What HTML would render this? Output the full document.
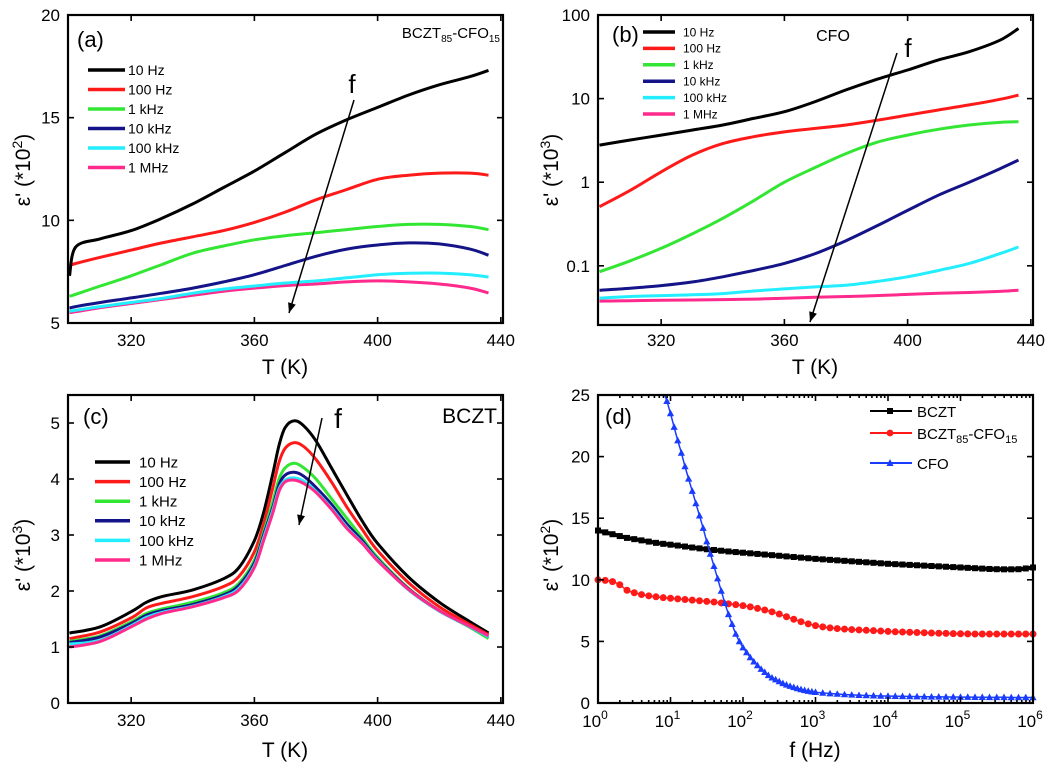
<!DOCTYPE html>
<html><head><meta charset="utf-8"><style>
html,body{margin:0;padding:0;background:#fff}
svg{display:block;font-family:"Liberation Sans",Arial,sans-serif}
</style></head><body>
<svg id="fig" width="1059" height="770" viewBox="0 0 1059 770"></svg>
<script>
// ---------- Panel (a) data: BCZT85-CFO15, eps' (*10^2) vs T ----------
const aT=[300,302,310,320,330,340,350,360,370,380,390,400,410,420,430,436];
const a10Hz=[7.3,8.7,9.1,9.5,10.1,10.8,11.6,12.4,13.3,14.2,14.9,15.5,16.1,16.6,17.0,17.3];
const a100Hz=[7.8,7.9,8.2,8.55,8.9,9.2,9.5,9.9,10.4,11.0,11.5,12.0,12.2,12.3,12.3,12.2];
const a1kHz=[6.3,6.4,6.8,7.3,7.85,8.4,8.75,9.05,9.25,9.4,9.55,9.7,9.8,9.8,9.7,9.55];
const a10kHz=[5.73,5.8,6.0,6.22,6.45,6.7,7.0,7.35,7.8,8.25,8.6,8.8,8.9,8.85,8.6,8.3];
const a100kHz=[5.57,5.62,5.8,6.0,6.2,6.45,6.65,6.8,6.95,7.05,7.2,7.35,7.42,7.43,7.35,7.24];
const a1MHz=[5.5,5.55,5.75,5.95,6.15,6.35,6.55,6.7,6.82,6.9,7.0,7.05,7.0,6.9,6.7,6.46];
// ---------- Panel (b) data: CFO, eps' (*10^3), log scale ----------
const bT=[300,310,320,330,340,350,360,370,380,390,400,410,420,430,436];
const b10Hz=[2.78,3.2,3.66,4.2,4.83,5.8,6.97,9.2,12.7,17,22,29,36.4,50,69];
const b100Hz=[0.51,0.8,1.33,2.1,2.9,3.5,4.0,4.4,4.83,5.5,6.35,7.3,8.4,9.8,11.0];
const b1kHz=[0.085,0.115,0.162,0.24,0.37,0.6,1.0,1.5,2.2,3.0,3.66,4.3,4.83,5.2,5.3];
const b10kHz=[0.051,0.054,0.058,0.064,0.074,0.088,0.107,0.14,0.2,0.3,0.46,0.7,1.0,1.45,1.84];
const b100kHz=[0.041,0.043,0.044,0.045,0.0466,0.05,0.0529,0.056,0.0585,0.065,0.074,0.088,0.107,0.14,0.168];
const b1MHz=[0.0379,0.0383,0.0387,0.039,0.0395,0.04,0.041,0.042,0.043,0.044,0.0455,0.047,0.048,0.0495,0.051];
// ---------- Panel (c) data: BCZT, eps' (*10^3) ----------
const cT=[300,310,320,325,330,340,350,355,360,363,366,368,370,373,376,380,385,390,395,400,410,420,430,436];
const c10Hz=[1.25,1.36,1.63,1.8,1.9,2.02,2.22,2.42,2.9,3.4,4.1,4.6,4.92,5.04,4.95,4.68,4.2,3.72,3.25,2.85,2.25,1.8,1.45,1.25];
const c100Hz=[1.15,1.27,1.52,1.7,1.78,1.9,2.08,2.26,2.7,3.2,3.85,4.3,4.55,4.65,4.58,4.35,3.95,3.5,3.1,2.72,2.15,1.72,1.4,1.22];
const c1kHz=[1.1,1.2,1.45,1.6,1.68,1.8,1.97,2.14,2.55,3.05,3.6,4.0,4.2,4.28,4.2,4.0,3.65,3.3,2.95,2.6,2.05,1.65,1.35,1.15];
const c10kHz=[1.08,1.18,1.42,1.57,1.65,1.76,1.93,2.1,2.5,3.0,3.5,3.9,4.07,4.12,4.05,3.85,3.55,3.2,2.9,2.57,2.04,1.65,1.36,1.18];
const c100kHz=[1.05,1.12,1.38,1.53,1.62,1.73,1.9,2.05,2.45,2.95,3.45,3.82,3.98,4.02,3.96,3.78,3.48,3.14,2.86,2.55,2.02,1.64,1.36,1.18];
const c1MHz=[1.0,1.1,1.36,1.5,1.6,1.72,1.88,2.02,2.42,2.9,3.4,3.78,3.95,3.98,3.92,3.76,3.46,3.12,2.85,2.54,2.03,1.65,1.37,1.2];
// ---------- Panel (d) data: eps' (*10^2) vs log10 f ----------
const dLogF=[0,0.1,0.2,0.3,0.4,0.5,0.6,0.7,0.8,0.9,1.0,1.1,1.2,1.3,1.4,1.5,1.6,1.7,1.8,1.9,2.0,2.1,2.2,2.3,2.4,2.5,2.6,2.7,2.8,2.9,3.0,3.1,3.2,3.3,3.4,3.5,3.6,3.7,3.8,3.9,4.0,4.1,4.2,4.3,4.4,4.5,4.6,4.7,4.8,4.9,5.0,5.1,5.2,5.3,5.4,5.5,5.6,5.7,5.8,5.9,6.0];
const dBCZT=[14.0,13.85,13.7,13.55,13.4,13.3,13.2,13.1,13.0,12.92,12.85,12.78,12.7,12.62,12.55,12.48,12.42,12.36,12.3,12.25,12.2,12.15,12.1,12.05,12.0,11.95,11.9,11.85,11.8,11.75,11.7,11.66,11.62,11.58,11.54,11.5,11.46,11.42,11.38,11.34,11.3,11.27,11.24,11.21,11.18,11.15,11.12,11.09,11.06,11.03,11.0,10.97,10.94,10.91,10.88,10.86,10.85,10.85,10.86,10.92,11.0];
const dBCZTCFO=[10.0,9.95,9.85,9.6,9.15,8.95,8.8,8.7,8.62,8.55,8.5,8.45,8.4,8.35,8.3,8.25,8.2,8.12,8.05,7.98,7.9,7.8,7.68,7.55,7.4,7.22,7.0,6.8,6.6,6.42,6.28,6.18,6.1,6.04,6.0,5.96,5.93,5.9,5.87,5.84,5.81,5.78,5.76,5.74,5.72,5.7,5.68,5.66,5.65,5.63,5.62,5.61,5.6,5.6,5.6,5.6,5.6,5.6,5.6,5.6,5.6];
const dCFOLogF=[0.9,0.95,1.0,1.05,1.1,1.15,1.2,1.25,1.3,1.35,1.4,1.45,1.5,1.55,1.6,1.65,1.7,1.75,1.8,1.85,1.9,1.95,2.0,2.05,2.1,2.15,2.2,2.25,2.3,2.35,2.4,2.45,2.5,2.55,2.6,2.65,2.7,2.75,2.8,2.85,2.9,2.95,3.0,3.1,3.2,3.3,3.4,3.5,3.6,3.7,3.8,3.9,4.0,4.1,4.2,4.3,4.4,4.5,4.6,4.7,4.8,4.9,5.0,5.1,5.2,5.3,5.4,5.5,5.6,5.7,5.8,5.9,6.0];
const dCFO=[25.4,24.5,23.5,22.4,21.3,20.3,19.2,18.2,17.2,16.2,15.2,14.2,13.1,12.1,11.1,10.1,9.1,8.1,7.2,6.4,5.6,5.0,4.5,4.1,3.7,3.35,3.05,2.75,2.5,2.25,2.05,1.9,1.75,1.6,1.48,1.37,1.27,1.18,1.1,1.03,0.97,0.92,0.88,0.82,0.77,0.73,0.69,0.66,0.63,0.61,0.59,0.57,0.56,0.55,0.54,0.53,0.52,0.51,0.5,0.5,0.49,0.49,0.48,0.48,0.47,0.47,0.46,0.46,0.46,0.45,0.45,0.45,0.45];
const freqLabels=['10 Hz','100 Hz','1 kHz','10 kHz','100 kHz','1 MHz'];
const freqColors=['#000000','#ff1a1a','#33e633','#141488','#22eeff','#ff2a8c'];
const aYTicks=[5,10,15,20];
const bYTicks=[0.1,1,10,100];
const bYTickLabels=['0.1','1','10','100'];
const cYTicks=[0,1,2,3,4,5];
const dYTicks=[0,5,10,15,20,25];
const tTicks=[320,360,400,440];
const dXTicks=[0,1,2,3,4,5,6];

const NS='http://www.w3.org/2000/svg';
const fig=document.getElementById('fig');
function el(tag,parent){const e=document.createElementNS(NS,tag);parent.appendChild(e);return e;}
function lin(d0,d1,r0,r1){return v=>r0+(v-d0)/(d1-d0)*(r1-r0);}
function logs(d0,d1,r0,r1){const l0=Math.log10(d0),l1=Math.log10(d1);return v=>r0+(Math.log10(v)-l0)/(l1-l0)*(r1-r0);}
function txt(parent,x,y,s,size,anchor){const t=el('text',parent);t.setAttribute('x',x);t.setAttribute('y',y);t.setAttribute('font-size',size);t.setAttribute('text-anchor',anchor||'start');t.textContent=s;return t;}
function sub(t,s,dy,size){const sp=el('tspan',t);sp.setAttribute('dy',dy);sp.setAttribute('font-size',size);sp.textContent=s;return sp;}
function smoothPath(pts){
  let d='M'+pts[0][0].toFixed(1)+' '+pts[0][1].toFixed(1);
  for(let i=0;i<pts.length-1;i++){
    const p0=pts[Math.max(0,i-1)],p1=pts[i],p2=pts[i+1],p3=pts[Math.min(pts.length-1,i+2)];
    const c1x=p1[0]+(p2[0]-p0[0])/6,c1y=p1[1]+(p2[1]-p0[1])/6;
    const c2x=p2[0]-(p3[0]-p1[0])/6,c2y=p2[1]-(p3[1]-p1[1])/6;
    d+=`C${c1x.toFixed(1)} ${c1y.toFixed(1)} ${c2x.toFixed(1)} ${c2y.toFixed(1)} ${p2[0].toFixed(1)} ${p2[1].toFixed(1)}`;
  }
  return d;
}
function frame(g,L,T,R,B,id){
  const cp=el('clipPath',g);cp.setAttribute('id',id);
  const cr=el('rect',cp);cr.setAttribute('x',L);cr.setAttribute('y',T);cr.setAttribute('width',R-L);cr.setAttribute('height',B-T);
  const r=el('rect',g);r.setAttribute('x',L);r.setAttribute('y',T);r.setAttribute('width',R-L);r.setAttribute('height',B-T);
  r.setAttribute('fill','none');r.setAttribute('stroke','#000');r.setAttribute('stroke-width','2.2');
  
  
}
function series(g,xs,ys,sx,sy,color,w,clip,name){
  const p=el('path',g);
  p.setAttribute('d',smoothPath(xs.map((x,i)=>[sx(x),sy(ys[i])])));
  p.setAttribute('fill','none');p.setAttribute('stroke',color);p.setAttribute('stroke-width',w);
  p.setAttribute('stroke-linejoin','round');p.setAttribute('clip-path','url(#'+clip+')');
  
  
  return p;
}
function tick(g,x1,y1,x2,y2){const l=el('line',g);l.setAttribute('x1',x1);l.setAttribute('y1',y1);l.setAttribute('x2',x2);l.setAttribute('y2',y2);l.setAttribute('stroke','#000');l.setAttribute('stroke-width','1.6');return l;}
function arrow(g,x1,y1,x2,y2){
  const l=tick(g,x1,y1,x2,y2);l.setAttribute('stroke-width','1.5');
  const a=Math.atan2(y2-y1,x2-x1),s=10,w=4;
  const p=el('polygon',g);
  const bx=x2-s*Math.cos(a),by=y2-s*Math.sin(a);
  p.setAttribute('points',`${x2},${y2} ${bx+w*Math.sin(a)},${by-w*Math.cos(a)} ${bx-w*Math.sin(a)},${by+w*Math.cos(a)}`);
  p.setAttribute('fill','#000');
  
  
}
function ytitle(g,x,y,exp){
  const t=txt(g,0,0,"ε' (*10",21,'middle');
  t.setAttribute('transform',`translate(${x},${y}) rotate(-90)`);
  sub(t,exp,-8,14);sub(t,')',8,21);
  
  
}
function xTTicks(g,sx,B,T,lblY,title,titleY,cx){
  tTicks.forEach(v=>{tick(g,sx(v),B,sx(v),B-6);tick(g,sx(v),T,sx(v),T+6);
    const t=txt(g,sx(v),lblY,String(v),17,'middle');
    
    });
  const tt=txt(g,cx,titleY,title,21,'middle');
  
  
}
function legendT(g,x1,x2,y0,dy,tx,size,w){
  freqLabels.forEach((lab,i)=>{
    const y=y0+i*dy;
    const l=tick(g,x1,y,x2,y);l.setAttribute('stroke',freqColors[i]);l.setAttribute('stroke-width',w);
    
    
    const t=txt(g,tx,y+size*0.36,lab,size);
    
    
  });
}

// ===== Panel (a) =====
(function(){
  const g=el('g',fig);
  const L=68,R=503,T=15,B=323;
  const sx=lin(299.5,440.7,L,R),sy=lin(5,20,B,T);
  const ser=[a10Hz,a100Hz,a1kHz,a10kHz,a100kHz,a1MHz];
  for(let i=5;i>=0;i--) series(g,aT,ser[i],sx,sy,freqColors[i],3,'clipA','line-'+freqLabels[i].replace(' ','-').toLowerCase());
  frame(g,L,T,R,B,'clipA');
  aYTicks.forEach(v=>{tick(g,L,sy(v),L+6,sy(v));tick(g,R,sy(v),R-6,sy(v));
    const t=txt(g,L-8,sy(v)+6,String(v),17,'end');});
  xTTicks(g,sx,B,T,346,'T (K)',374,285);
  ytitle(g,30,170,'2');
  legendT(g,88,125,70,19.5,128,14,3.5);
  const lab=txt(g,77,47,'(a)',22);
  const nm=txt(g,500,38,'BCZT',15,'end');sub(nm,'85',4,10);sub(nm,'-CFO',-4,15);sub(nm,'15',4,10);
  
  const f=txt(g,352,93,'f',26,'middle');
  arrow(g,354,100,289,313);
})();

// ===== Panel (b) =====
(function(){
  const g=el('g',fig);
  const L=598,R=1033,T=15,B=325;
  const sx=lin(299.5,440.7,L,R),sy=logs(0.0196,100,B,T);
  const ser=[b10Hz,b100Hz,b1kHz,b10kHz,b100kHz,b1MHz];
  for(let i=5;i>=0;i--) series(g,bT,ser[i],sx,sy,freqColors[i],3,'clipB','line-'+freqLabels[i].replace(' ','-').toLowerCase());
  frame(g,L,T,R,B,'clipB');
  bYTicks.forEach((v,i)=>{tick(g,L,sy(v),L+6,sy(v));tick(g,R,sy(v),R-6,sy(v));
    const t=txt(g,L-8,sy(v)+6,bYTickLabels[i],17,'end');});
  xTTicks(g,sx,B,T,346,'T (K)',374,815);
  ytitle(g,558,170,'3');
  legendT(g,643,675,32,16.4,683,12,3.5);
  const lab=txt(g,612,42,'(b)',22);
  const nm=txt(g,833,41,'CFO',16,'middle');
  const f=txt(g,908,57,'f',26,'middle');
  arrow(g,897,53,810,322);
})();

// ===== Panel (c) =====
(function(){
  const g=el('g',fig);
  const L=68,R=503,T=395,B=703;
  const sx=lin(299.5,440.7,L,R),sy=lin(0,5.5,B,T);
  const ser=[c10Hz,c100Hz,c1kHz,c10kHz,c100kHz,c1MHz];
  for(let i=0;i<6;i++) series(g,cT,ser[i],sx,sy,freqColors[i],3,'clipC','line-'+freqLabels[i].replace(' ','-').toLowerCase());
  frame(g,L,T,R,B,'clipC');
  cYTicks.forEach(v=>{tick(g,L,sy(v),L+6,sy(v));tick(g,R,sy(v),R-6,sy(v));
    const t=txt(g,L-8,sy(v)+6,String(v),17,'end');});
  xTTicks(g,sx,B,T,726,'T (K)',757,285);
  ytitle(g,30,555,'3');
  legendT(g,95,130,462,19.6,139,15,3.5);
  const lab=txt(g,83,424,'(c)',22);
  const nm=txt(g,497,423,'BCZT',21,'end');
  const f=txt(g,338,428,'f',28,'middle');
  arrow(g,322,418,299,525);
})();

// ===== Panel (d) =====
(function(){
  const g=el('g',fig);
  const L=598,R=1033,T=395,B=703;
  const sx=lin(0,6,L,R),sy=lin(0,25,B,T);
  series(g,dLogF,dBCZT,sx,sy,'#000',4,'clipD','line-bczt');
  dLogF.forEach((x,i)=>{const r=el('rect',g);r.setAttribute('x',sx(x)-3);r.setAttribute('y',sy(dBCZT[i])-3);r.setAttribute('width',6);r.setAttribute('height',6);r.setAttribute('fill','#000');
    });
  series(g,dLogF,dBCZTCFO,sx,sy,'#ff1a1a',1.5,'clipD','line-bczt-cfo');
  dLogF.forEach((x,i)=>{const c=el('circle',g);c.setAttribute('cx',sx(x));c.setAttribute('cy',sy(dBCZTCFO[i]));c.setAttribute('r',3.5);c.setAttribute('fill','#ff1a1a');
    });
  series(g,dCFOLogF,dCFO,sx,sy,'#1a3cff',1.5,'clipD','line-cfo');
  dCFOLogF.forEach((x,i)=>{const X=sx(x),Y=sy(dCFO[i]);if(Y<T-1)return;const p=el('polygon',g);
    p.setAttribute('points',`${X},${Y-3.8} ${X-3.6},${Y+2.8} ${X+3.6},${Y+2.8}`);p.setAttribute('fill','#1a3cff');
    });
  frame(g,L,T,R,B,'clipD');
  dYTicks.forEach(v=>{tick(g,L,sy(v),L+6,sy(v));tick(g,R,sy(v),R-6,sy(v));
    const t=txt(g,L-8,sy(v)+6,String(v),17,'end');});
  dXTicks.forEach(v=>{tick(g,sx(v),B,sx(v),B-6);tick(g,sx(v),T,sx(v),T+6);
    if(v<6)for(let k=2;k<10;k++){const xm=sx(v+Math.log10(k));tick(g,xm,B,xm,B-3);tick(g,xm,T,xm,T+3);}
    const t=txt(g,sx(v)-3,727,'10',17,'middle');sub(t,String(v),-8,12);
    });
  const tt=txt(g,815,757,'f (Hz)',21,'middle');
  ytitle(g,558,555,'2');
  const lab=txt(g,605,424,'(d)',22);
  const ly=[411,433,463],lc=['#000','#ff1a1a','#1a3cff'];
  ly.forEach((y,i)=>{const l=tick(g,870,y,912,y);l.setAttribute('stroke',lc[i]);l.setAttribute('stroke-width',2);
    });
  const m1=el('rect',g);m1.setAttribute('x',887);m1.setAttribute('y',408);m1.setAttribute('width',6);m1.setAttribute('height',6);m1.setAttribute('fill','#000');
  const m2=el('circle',g);m2.setAttribute('cx',890);m2.setAttribute('cy',433);m2.setAttribute('r',3.4);m2.setAttribute('fill','#ff1a1a');
  const m3=el('polygon',g);m3.setAttribute('points','890,459 886.5,466 893.5,466');m3.setAttribute('fill','#1a3cff');
  const t1=txt(g,917,417,'BCZT',15);
  const t2=txt(g,917,439,'BCZT',15);sub(t2,'85',4,11);sub(t2,'-CFO',-4,15);sub(t2,'15',4,11);
  
  const t3=txt(g,917,469,'CFO',15);
})();
</script>
</body></html>
